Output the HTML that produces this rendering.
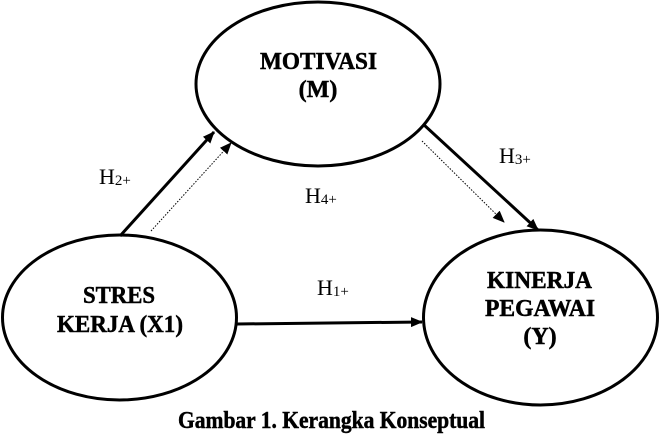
<!DOCTYPE html>
<html>
<head>
<meta charset="utf-8">
<style>
html,body{margin:0;padding:0;background:#fff;}
svg{display:block;}
.b{font-family:"Liberation Serif",serif;font-weight:bold;font-size:24px;fill:#000;stroke:#000;stroke-width:0.5px;}
.h{font-family:"Liberation Serif",serif;font-size:22px;fill:#000;}
.s{font-size:15px;}
</style>
</head>
<body>
<svg width="659" height="434" viewBox="0 0 659 434" xmlns="http://www.w3.org/2000/svg">
<defs>
<marker id="ah" markerWidth="12" markerHeight="10" refX="11" refY="5" orient="auto" markerUnits="userSpaceOnUse">
<path d="M0,0 L12,5 L0,10 z" fill="#000"/>
</marker>
</defs>
<rect width="659" height="434" fill="#fff"/>

<!-- ellipses -->
<ellipse cx="318" cy="84" rx="122" ry="82" fill="none" stroke="#000" stroke-width="3"/>
<ellipse cx="119.5" cy="317.5" rx="117" ry="82.5" fill="none" stroke="#000" stroke-width="3"/>
<ellipse cx="540.5" cy="317.5" rx="117" ry="87.5" fill="none" stroke="#000" stroke-width="3"/>

<!-- arrows -->
<line x1="120" y1="236" x2="214" y2="132" stroke="#000" stroke-width="3" marker-end="url(#ah)"/>
<line x1="151" y1="231" x2="231" y2="143" stroke="#000" stroke-width="1" stroke-dasharray="1.5,1.5" marker-end="url(#ah)"/>
<line x1="423" y1="124" x2="538" y2="230" stroke="#000" stroke-width="3" marker-end="url(#ah)"/>
<line x1="422" y1="141" x2="504" y2="222" stroke="#000" stroke-width="1" stroke-dasharray="1.5,1.5" marker-end="url(#ah)"/>
<line x1="237" y1="324" x2="422" y2="322" stroke="#000" stroke-width="3" marker-end="url(#ah)"/>

<!-- node labels -->
<text class="b" x="260" y="69" textLength="117" lengthAdjust="spacingAndGlyphs">MOTIVASI</text>
<text class="b" x="318" y="97" text-anchor="middle">(M)</text>
<text class="b" x="83" y="303" textLength="72" lengthAdjust="spacingAndGlyphs">STRES</text>
<text class="b" x="57" y="332" textLength="126" lengthAdjust="spacingAndGlyphs">KERJA (X1)</text>
<text class="b" x="487" y="288" textLength="105" lengthAdjust="spacingAndGlyphs">KINERJA</text>
<text class="b" x="485" y="316" textLength="110" lengthAdjust="spacingAndGlyphs">PEGAWAI</text>
<text class="b" x="540" y="344" text-anchor="middle">(Y)</text>

<!-- hypothesis labels -->
<text class="h" x="99" y="184">H<tspan class="s" dy="1">2+</tspan></text>
<text class="h" x="305" y="203">H<tspan class="s" dy="1">4+</tspan></text>
<text class="h" x="499" y="163">H<tspan class="s" dy="1">3+</tspan></text>
<text class="h" x="317" y="295">H<tspan class="s" dy="1">1+</tspan></text>

<!-- caption -->
<text class="b" x="178" y="428" textLength="307" lengthAdjust="spacingAndGlyphs" style="font-size:24px">Gambar 1. Kerangka Konseptual</text>
</svg>
</body>
</html>
